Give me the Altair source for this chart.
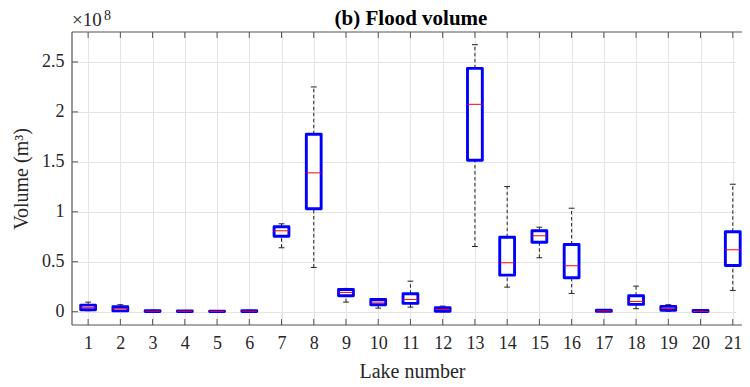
import altair as alt
import pandas as pd

# Flood volume per lake, in units of 1e8 m^3
lakes = list(range(1, 22))
whisker_low = [0.010, 0.005, 0.000, 0.000, 0.000, 0.000, 0.640, 0.443, 0.096, 0.036, 0.046,
               0.000, 0.653, 0.246, 0.540, 0.183, 0.000, 0.030, 0.005, 0.000, 0.213]
q1 = [0.020, 0.008, 0.002, 0.001, 0.001, 0.002, 0.756, 1.030, 0.160, 0.070, 0.083,
      0.005, 1.516, 0.366, 0.696, 0.340, 0.003, 0.073, 0.015, 0.001, 0.463]
median = [0.040, 0.030, 0.005, 0.004, 0.003, 0.005, 0.810, 1.390, 0.193, 0.096, 0.123,
          0.023, 2.076, 0.490, 0.760, 0.460, 0.008, 0.103, 0.033, 0.003, 0.620]
q3 = [0.066, 0.050, 0.010, 0.008, 0.006, 0.010, 0.850, 1.776, 0.223, 0.123, 0.180,
      0.040, 2.436, 0.746, 0.810, 0.673, 0.015, 0.160, 0.053, 0.012, 0.800]
whisker_high = [0.096, 0.070, 0.015, 0.012, 0.010, 0.014, 0.880, 2.250, 0.233, 0.130, 0.306,
                0.056, 2.673, 1.253, 0.846, 1.036, 0.020, 0.256, 0.070, 0.015, 1.276]
y_ticks = [0, 0.5, 1, 1.5, 2, 2.5]

W, H = 664, 293
PAD_R = 6
FONT = "Liberation Serif"
TXT = "#262626"
FRAME = "#555555"

df = pd.DataFrame(dict(lake=lakes, lo=whisker_low, q1=q1, med=median, q3=q3, hi=whisker_high))
ticks_df = pd.DataFrame(dict(v=y_ticks))
one = pd.DataFrame(dict(k=[0]))

xs = alt.Scale(domain=[0.5, 21.1], nice=False, zero=False)
ys = alt.Scale(domain=[-0.133, 2.8], nice=False, zero=False)

xaxis = alt.Axis(values=lakes, format="d", title="Lake number", grid=True, gridColor="#e4e4e4",
                 domain=False, tickSize=0, labelPadding=9, labelFont=FONT, labelFontSize=18,
                 labelColor=TXT, titleFont=FONT, titleFontSize=20, titleFontWeight="normal",
                 titleColor=TXT, titleX=340, titleY=52, titleBaseline="alphabetic",
                 titleAlign="center")
yaxis = alt.Axis(values=y_ticks, labelExpr="toString(datum.value)", title="Volume (m³)",
                 grid=True, gridColor="#e4e4e4", domain=False, tickSize=0, labelPadding=8,
                 labelFont=FONT, labelFontSize=18, labelColor=TXT, titleFont=FONT,
                 titleFontSize=20, titleFontWeight="normal", titleColor=TXT,
                 titleX=-45, titleY=H / 2, titleBaseline="alphabetic", titleAlign="center")


def X(field):
    return alt.X(f"{field}:Q", scale=xs, axis=xaxis)


def Y(field):
    return alt.Y(f"{field}:Q", scale=ys, axis=yaxis)


base = alt.Chart(df).transform_calculate(
    bx0="datum.lake - 0.23", bx1="datum.lake + 0.23",
    cx0="datum.lake - 0.09", cx1="datum.lake + 0.09")

whisk_lo = base.mark_rule(color="#222222", strokeWidth=1, strokeDash=[3.5, 2.5]).encode(
    x=X("lake"), y=Y("lo"), y2="q1:Q")
whisk_hi = base.mark_rule(color="#222222", strokeWidth=1, strokeDash=[3.5, 2.5]).encode(
    x=X("lake"), y=Y("q3"), y2="hi:Q")
cap_lo = base.mark_rule(color="#222222", strokeWidth=1).encode(x=X("cx0"), x2="cx1:Q", y=Y("lo"))
cap_hi = base.mark_rule(color="#222222", strokeWidth=1).encode(x=X("cx0"), x2="cx1:Q", y=Y("hi"))
box = base.mark_rect(fill="white", stroke="#0000ff", strokeWidth=2.9, strokeJoin="round").encode(
    x=X("bx0"), x2="bx1:Q", y=Y("q1"), y2="q3:Q")
med = base.mark_rule(color="#ff0000", strokeWidth=1).encode(x=X("bx0"), x2="bx1:Q", y=Y("med"))

top_ticks = alt.Chart(df).mark_rule(color=FRAME, strokeWidth=1).encode(
    x=X("lake"), y=alt.value(0), y2=alt.value(6))
bot_ticks = alt.Chart(df).mark_rule(color=FRAME, strokeWidth=1).encode(
    x=X("lake"), y=alt.value(H), y2=alt.value(H - 6))
left_ticks = alt.Chart(ticks_df).mark_rule(color=FRAME, strokeWidth=1).encode(
    y=Y("v"), x=alt.value(0), x2=alt.value(6))

frame_top = alt.Chart(one).mark_rule(color=FRAME, strokeWidth=1.2).encode(
    x=alt.value(0), x2=alt.value(W + PAD_R), y=alt.value(0))
frame_bot = alt.Chart(one).mark_rule(color=FRAME, strokeWidth=1.2).encode(
    x=alt.value(0), x2=alt.value(W + PAD_R), y=alt.value(H))
frame_left = alt.Chart(one).mark_rule(color=FRAME, strokeWidth=1.2).encode(
    x=alt.value(0), y=alt.value(0), y2=alt.value(H))

note_df = pd.DataFrame(dict(t=["×10"]))
exp_df = pd.DataFrame(dict(t=["8"]))
title_df = pd.DataFrame(dict(t=["(b) Flood volume"]))
mult = alt.Chart(note_df).mark_text(font=FONT, fontSize=19, color=TXT, align="left",
                                    baseline="alphabetic").encode(
    text="t:N", x=alt.value(0), y=alt.value(-6))
expo = alt.Chart(exp_df).mark_text(font=FONT, fontSize=14, color=TXT, align="left",
                                   baseline="alphabetic").encode(
    text="t:N", x=alt.value(32), y=alt.value(-12))
title = alt.Chart(title_df).mark_text(font=FONT, fontSize=21, fontWeight="bold", color="black",
                                      align="center", baseline="alphabetic").encode(
    text="t:N", x=alt.value(339), y=alt.value(-7))

chart = alt.layer(
    whisk_lo, whisk_hi, cap_lo, cap_hi, box, med,
    top_ticks, bot_ticks, left_ticks, frame_top, frame_bot, frame_left,
    mult, expo, title
).properties(
    width=W, height=H,
    autosize=alt.AutoSizeParams(type="none"),
    padding={"left": 64, "top": 24, "right": PAD_R, "bottom": 54},
).configure_view(strokeWidth=0)

chart.save("out.html", embed_options={"renderer": "svg", "actions": False})
